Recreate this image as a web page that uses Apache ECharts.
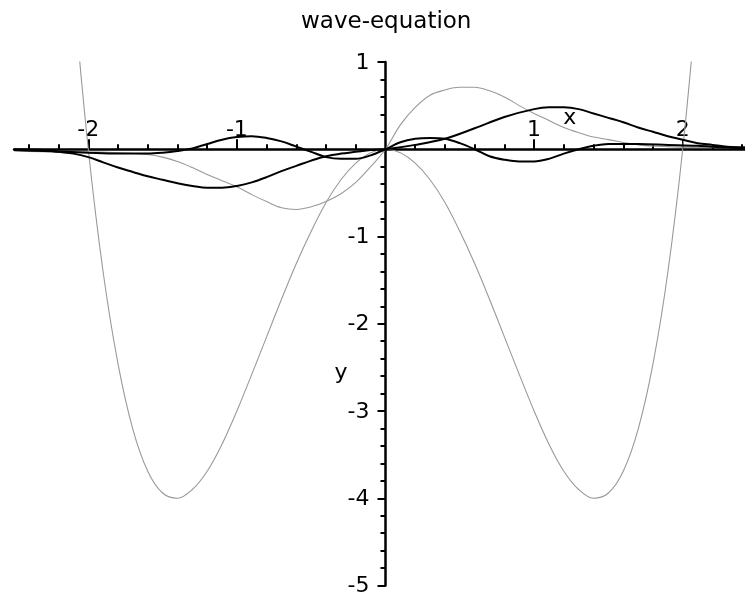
<!DOCTYPE html>
<html>
<head>
<meta charset="utf-8">
<script src="https://cdn.jsdelivr.net/npm/echarts@6/dist/echarts.min.js"></script>
<style>
  html, body { margin: 0; padding: 0; background: #fff; }
  #chart { width: 745px; height: 599px; }
</style>
</head>
<body>
<div id="chart"></div>
<script>
// Integer ticks (labelled) and the 0.2-step minor ticks on the x axis
const xMajorTicks = [-2, -1, 1, 2];
const xMinorTicks = [-2.4, -2.2, -1.8, -1.6, -1.4, -1.2, -0.8, -0.6, -0.4, -0.2,
                     0.2, 0.4, 0.6, 0.8, 1.2, 1.4, 1.6, 1.8, 2.2, 2.4];
// Labelled ticks on the y axis
const yMajorTicks = [1, -1, -2, -3, -4, -5];

// Profile at t = 0 (light grey, deep double well)
const xQuartic = [-2.1, -2.0, -1.9, -1.8, -1.7, -1.6, -1.5, -1.4, -1.3, -1.2, -1.1, -1.0,
                  -0.9, -0.8, -0.7, -0.6, -0.5, -0.4, -0.3, -0.2, -0.1, 0,
                  0.1, 0.2, 0.3, 0.4, 0.5, 0.6, 0.7, 0.8, 0.9, 1.0,
                  1.1, 1.2, 1.3, 1.4, 1.5, 1.6, 1.7, 1.8, 1.9, 2.0, 2.1];
const yQuartic = [1.81, 0, -1.41, -2.46, -3.21, -3.69, -3.94, -4.00, -3.90, -3.69, -3.38, -3.00,
                  -2.58, -2.15, -1.72, -1.31, -0.94, -0.61, -0.35, -0.16, -0.04, 0,
                  -0.04, -0.16, -0.35, -0.61, -0.94, -1.31, -1.72, -2.15, -2.58, -3.00,
                  -3.38, -3.69, -3.90, -4.00, -3.94, -3.69, -3.21, -2.46, -1.41, 0, 1.81];

// Light grey profile with the ±0.7 lobes
const xLight = [-2.5, -2.2, -2.0, -1.8, -1.6, -1.5, -1.4, -1.3, -1.2, -1.1, -1.0,
                -0.9, -0.8, -0.7, -0.6, -0.5, -0.4, -0.3, -0.2, -0.1, 0,
                0.1, 0.2, 0.3, 0.4, 0.5, 0.6, 0.7, 0.8, 0.9, 1.0,
                1.1, 1.2, 1.3, 1.4, 1.5, 1.7, 1.9, 2.2, 2.5];
const yLight = [-0.02, -0.03, -0.03, -0.04, -0.06, -0.09, -0.14, -0.21, -0.29, -0.36, -0.43,
                -0.52, -0.60, -0.67, -0.69, -0.66, -0.60, -0.51, -0.38, -0.20, 0,
                0.28, 0.48, 0.62, 0.68, 0.71, 0.71, 0.67, 0.60, 0.50, 0.41,
                0.33, 0.25, 0.19, 0.14, 0.11, 0.05, 0.03, 0.02, 0.02];

// Dark profile with the ±0.45 lobes
const xWide = [-2.5, -2.3, -2.2, -2.1, -2.0, -1.9, -1.8, -1.7, -1.6, -1.5, -1.4, -1.3, -1.2, -1.1, -1.0,
               -0.9, -0.8, -0.7, -0.6, -0.5, -0.4, -0.3, -0.2, -0.1, 0,
               0.2, 0.4, 0.6, 0.8, 1.0, 1.1, 1.2, 1.3, 1.4, 1.5, 1.6, 1.7, 1.8, 1.9, 2.0,
               2.1, 2.2, 2.3, 2.5];
const yWide = [0, -0.01, -0.03, -0.05, -0.09, -0.15, -0.21, -0.26, -0.31, -0.35, -0.39, -0.42, -0.44, -0.44, -0.42,
               -0.38, -0.32, -0.25, -0.19, -0.13, -0.08, -0.05, -0.03, -0.01, 0,
               0.05, 0.12, 0.24, 0.37, 0.46, 0.48, 0.48, 0.46, 0.41, 0.36, 0.31, 0.25, 0.20, 0.15, 0.11,
               0.07, 0.05, 0.03, 0.02];

// Dark profile with the small ripples near the axis
const xRipple = [-2.5, -2.3, -2.0, -1.8, -1.6, -1.5, -1.4, -1.3, -1.2, -1.1, -1.0,
                 -0.9, -0.8, -0.7, -0.6, -0.5, -0.4, -0.3, -0.2, -0.1, 0,
                 0.1, 0.2, 0.3, 0.4, 0.5, 0.6, 0.7, 0.8, 0.9, 1.0,
                 1.1, 1.2, 1.3, 1.4, 1.5, 1.7, 1.9, 2.1, 2.3, 2.5];
const yRipple = [-0.01, -0.02, -0.04, -0.05, -0.05, -0.04, -0.02, 0.01, 0.06, 0.11, 0.14,
                 0.15, 0.13, 0.09, 0.03, -0.03, -0.09, -0.11, -0.11, -0.07, 0,
                 0.08, 0.12, 0.13, 0.12, 0.07, 0.00, -0.08, -0.12, -0.14, -0.14,
                 -0.11, -0.05, 0.00, 0.04, 0.06, 0.06, 0.05, 0.04, 0.02, 0.01];

const pairs = (xs, ys) => xs.map((x, i) => [x, ys[i]]);

const FONT = 'DejaVu Sans';
const TEXT_FONT = '22px "DejaVu Sans"';
const chart = echarts.init(document.getElementById('chart'), null, { renderer: 'canvas' });

function curve(name, xs, ys, color, width) {
  return {
    name, type: 'line', data: pairs(xs, ys),
    showSymbol: false, smooth: 0.35, clip: true, silent: true,
    lineStyle: { color, width }
  };
}

chart.setOption({
  animation: false,
  backgroundColor: '#ffffff',
  title: {
    text: 'wave-equation', left: 296, top: 6,
    textStyle: { fontFamily: FONT, fontSize: 23, fontWeight: 'normal', color: '#000' }
  },
  grid: { left: 14, top: 62, right: -12, bottom: 13.5, outerBoundsMode: 'none', containLabel: false },
  xAxis: [{
    type: 'value', min: -2.5, max: 2.5,
    axisLine: { onZero: true, onZeroAxisIndex: 0, lineStyle: { color: '#000', width: 2.5 } },
    axisTick: { show: true, inside: true, length: 10, customValues: xMajorTicks,
                lineStyle: { color: '#000', width: 2 } },
    axisLabel: { show: false },
    splitLine: { show: false }
  }, {
    type: 'value', min: -2.5, max: 2.5, position: 'bottom',
    axisLine: { show: false, onZero: true, onZeroAxisIndex: 0 },
    axisTick: { show: true, inside: true, length: 5, customValues: xMinorTicks,
                lineStyle: { color: '#000', width: 2 } },
    axisLabel: { show: false },
    splitLine: { show: false }
  }],
  yAxis: {
    type: 'value', min: -5, max: 1, interval: 1,
    axisLine: { onZero: true, lineStyle: { color: '#000', width: 2.5 } },
    axisTick: { show: true, inside: false, length: 8, lineStyle: { color: '#000', width: 2 } },
    minorTick: { show: true, splitNumber: 5, length: 5, lineStyle: { color: '#000', width: 2 } },
    axisLabel: { show: false },
    splitLine: { show: false }
  },
  series: [
    curve('t0', xQuartic, yQuartic, '#999999', 1.1),
    curve('light', xLight, yLight, '#999999', 1.1),
    curve('wide', xWide, yWide, '#000000', 2),
    curve('ripple', xRipple, yRipple, '#000000', 2)
  ]
});

// Tick labels and axis names sit next to the axes that cross at the origin,
// so they are placed from the axes' own data-to-pixel mapping.
const toPx = (x, y) => chart.convertToPixel({ xAxisIndex: 0, yAxisIndex: 0 }, [x, y]);
const textEl = (p, text, align, verticalAlign) => ({
  type: 'text', x: p[0], y: p[1], silent: true,
  style: { text, fill: '#000', font: TEXT_FONT, align, verticalAlign }
});

const graphics = [];
xMajorTicks.forEach(v => {
  const p = toPx(v, 0);
  graphics.push(textEl([p[0], p[1] - 8], String(v), 'center', 'bottom'));
});
yMajorTicks.forEach(v => {
  const p = toPx(0, v);
  graphics.push(textEl([p[0] - 16, p[1] + 1], String(v), 'right', 'middle'));
});
graphics.push(textEl(toPx(1.24, 0.36), 'x', 'center', 'middle'));
graphics.push(textEl(toPx(-0.3, -2.57), 'y', 'center', 'middle'));

chart.setOption({ graphic: graphics });
</script>
</body>
</html>
